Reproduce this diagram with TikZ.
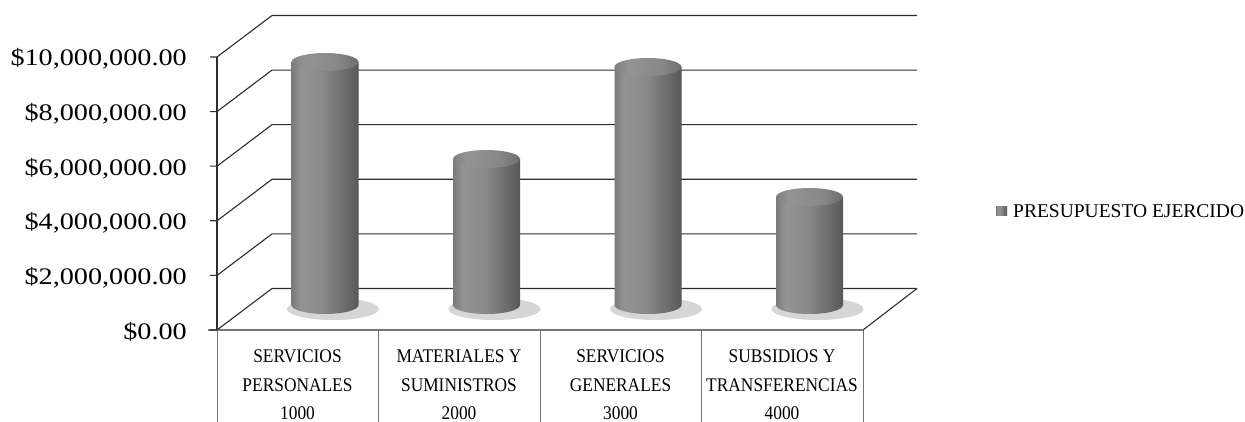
\documentclass[tikz,border=0pt]{standalone}
\usepackage{fontspec}
\setmainfont{Liberation Serif}
\newfontfamily\ylabfont[FakeStretch=1.19]{Liberation Serif}
\newfontfamily\catfont[FakeStretch=0.9]{Liberation Serif}
\pgfdeclarehorizontalshading{cylbody}{100bp}{color(0bp)=(black!90); color(10bp)=(black!75); color(32bp)=(black!42); color(48bp)=(black!46); color(72bp)=(black!63); color(90bp)=(black!82); color(100bp)=(black!92)}
\pgfdeclarehorizontalshading{cyltop}{100bp}{color(0bp)=(black!72); color(35bp)=(black!42); color(60bp)=(black!47); color(100bp)=(black!74)}
\newcommand\mycyl[3]{%
  \fill[black!16] (#1+8,309) ellipse (46 and 11);
  \shade[shading=cylbody] (#1-33.5,#2) -- (#1-33.5,305) arc[start angle=180,end angle=0,x radius=33.5,y radius=9] -- (#1+33.5,#2) -- cycle;
  \shade[shading=cyltop] (#1,#2) ellipse (33.5 and 9);
  \coordinate (#3) at (#1,#2);
}
\begin{document}
\begin{tikzpicture}[x=1pt,y=-1pt,
  grid/.style={black!82,line width=1.1pt},
  tbl/.style={black!55,line width=0.9pt},
  ylab/.style={anchor=base east,inner sep=0pt,font=\ylabfont\fontsize{23.7}{26}\selectfont},
  cat/.style={anchor=base,inner sep=0pt,font=\catfont\fontsize{19.3}{22}\selectfont},
  leg/.style={anchor=base west,inner sep=0pt,font=\fontsize{19.5}{22}\selectfont}]
\useasboundingbox (0,0) rectangle (1245,422);
\fill[white] (0,0) rectangle (1245,422);
% wall gridlines with ticks
\foreach \k in {0,...,5}{
  \pgfmathsetmacro\yf{330-54.6*\k}
  \draw[grid] (210,\yf) -- (217,\yf) -- (272,\yf-41.5) -- (917,\yf-41.5);
}
% front axis and floor
\draw[grid] (217,57) -- (217,330);
\draw[grid] (208,330) -- (863,330) -- (917,288.5);
% table
\foreach \xx in {217,378,540,701,863}{
  \draw[tbl] (\xx,330) -- (\xx,422);
}
% cylinders
\mycyl{325}{62}{c1}
\mycyl{486.5}{159}{c2}
\mycyl{648}{67}{c3}
\mycyl{809.5}{197}{c4}
% y labels
\node[ylab] (y10) at (187,66) {\$10,000,000.00};
\node[ylab] (y8) at (187,120.6) {\$8,000,000.00};
\node[ylab] (y6) at (187,175.2) {\$6,000,000.00};
\node[ylab] (y4) at (187,229.8) {\$4,000,000.00};
\node[ylab] (y2) at (187,284.4) {\$2,000,000.00};
\node[ylab] (y0) at (187,339) {\$0.00};
% categories
\node[cat] (a1) at (297.5,362) {SERVICIOS};
\node[cat] (a2) at (297.5,391) {PERSONALES};
\node[cat] (a3) at (297.5,419) {1000};
\node[cat] (b1) at (459,362) {MATERIALES Y};
\node[cat] (b2) at (459,391) {SUMINISTROS};
\node[cat] (b3) at (459,419) {2000};
\node[cat] (c1t) at (620.5,362) {SERVICIOS};
\node[cat] (c2t) at (620.5,391) {GENERALES};
\node[cat] (c3t) at (620.5,419) {3000};
\node[cat] (d1) at (782,362) {SUBSIDIOS Y};
\node[cat] (d2) at (782,391) {TRANSFERENCIAS};
\node[cat] (d3) at (782,419) {4000};
% legend
\shade[shading=cylbody] (996,207) rectangle (1007,216);
\node[leg] (lg) at (1013,218) {PRESUPUESTO EJERCIDO};
\end{tikzpicture}
\end{document}
